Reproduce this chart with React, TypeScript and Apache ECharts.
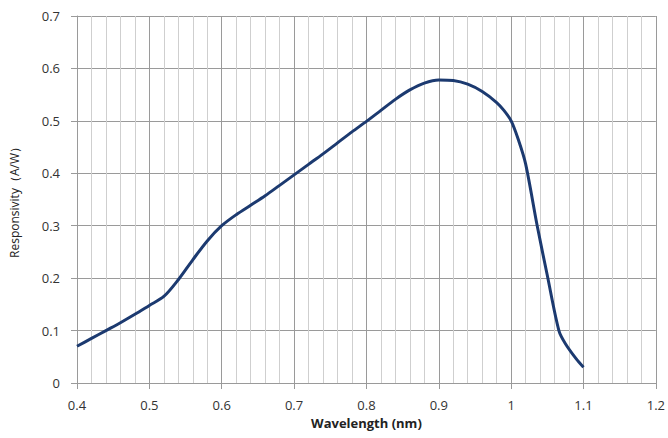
import React, { useEffect, useRef } from "react";
import * as echarts from "echarts";

const wavelengths = [
  0.4, 0.42, 0.44, 0.46, 0.48, 0.5, 0.52, 0.54, 0.56, 0.58, 0.6, 0.62, 0.64, 0.66, 0.68, 0.7,
  0.72, 0.74, 0.76, 0.78, 0.8, 0.82, 0.84, 0.86, 0.88, 0.9, 0.92, 0.94, 0.96, 0.98, 0.99, 1.0,
  1.01, 1.02, 1.036, 1.05, 1.066, 1.075, 1.09, 1.1,
];
const responsivity = [
  0.07, 0.085, 0.1, 0.115, 0.131, 0.148, 0.165, 0.197, 0.235, 0.271, 0.3, 0.321, 0.339, 0.357, 0.377, 0.397,
  0.417, 0.437, 0.458, 0.479, 0.499, 0.52, 0.541, 0.559, 0.572, 0.578, 0.577, 0.57, 0.556, 0.535, 0.52, 0.5,
  0.464, 0.418, 0.3, 0.205, 0.1, 0.075, 0.046, 0.03,
];
const xTitle = "Wavelength (nm)";
const yTitle = "Responsivity（A/W）";

export default function App() {
  const ref = useRef<HTMLDivElement>(null);
  useEffect(() => {
    if (!ref.current) return;
    const chart = echarts.init(ref.current, undefined, { renderer: "svg" });
    const font = "'Open Sans', 'Liberation Sans', sans-serif";
    chart.setOption({
      animation: false,
      backgroundColor: "#ffffff",
      grid: { left: 73, right: 12, top: 16, bottom: 55, containLabel: false },
      xAxis: {
        type: "value",
        min: 0.4,
        max: 1.2,
        interval: 0.1,
        name: xTitle,
        nameLocation: "middle",
        nameGap: 33,
        nameTextStyle: { fontFamily: font, fontSize: 13, fontWeight: "bold", color: "#222" },
        axisLine: { show: true, lineStyle: { color: "#9a9a9a", width: 1 } },
        axisTick: { show: true, length: 6, lineStyle: { color: "#9a9a9a" } },
        axisLabel: {
          fontFamily: font,
          fontSize: 13,
          color: "#333",
          margin: 15,
          formatter: (v: number) => String(Math.round(v * 10) / 10),
        },
        splitLine: { show: true, lineStyle: { color: "#9a9a9a", width: 1 } },
        minorTick: { show: false, splitNumber: 5 },
        minorSplitLine: { show: true, lineStyle: { color: "#cfcfcf", width: 1 } },
      },
      yAxis: {
        type: "value",
        min: 0,
        max: 0.7,
        interval: 0.1,
        name: yTitle,
        nameLocation: "middle",
        nameGap: 57,
        nameTextStyle: { fontFamily: font, fontSize: 12, color: "#222" },
        axisLine: { show: true, lineStyle: { color: "#9a9a9a", width: 1 } },
        axisTick: { show: true, length: 6, lineStyle: { color: "#9a9a9a" } },
        axisLabel: {
          fontFamily: font,
          fontSize: 13,
          color: "#333",
          margin: 17,
          formatter: (v: number) => String(Math.round(v * 10) / 10),
        },
        splitLine: { show: true, lineStyle: { color: "#9a9a9a", width: 1 } },
      },
      series: [
        {
          type: "line",
          data: wavelengths.map((w, i) => [w, responsivity[i]]),
          smooth: 0.3,
          showSymbol: false,
          symbol: "none",
          lineStyle: { color: "#1c3a70", width: 3 },
        },
      ],
    });
    return () => chart.dispose();
  }, []);
  return (
    <div
      ref={ref}
      style={{ position: "fixed", left: 0, top: 0, width: 668, height: 438 }}
    />
  );
}
